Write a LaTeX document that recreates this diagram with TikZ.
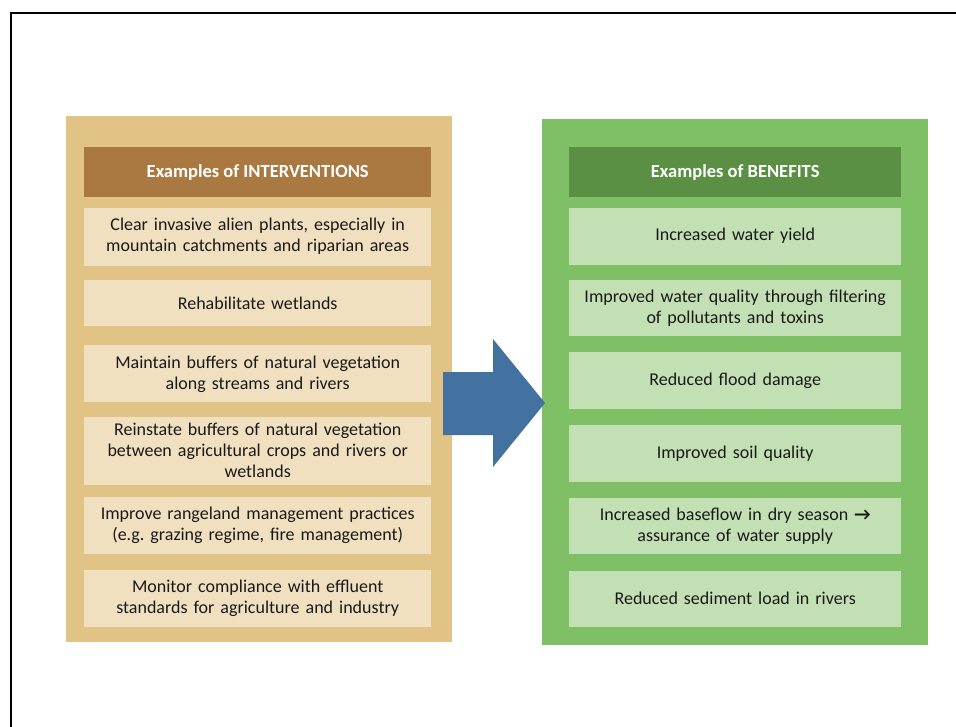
\documentclass[tikz,border=0pt]{standalone}
\usepackage{fontspec}
\setmainfont{Carlito}
\frenchspacing
\usepackage{xcolor}
\usetikzlibrary{positioning}

\definecolor{tanpanel}{RGB}{226,195,134}
\definecolor{tanhead}{RGB}{169,121,65}
\definecolor{tanitem}{RGB}{240,224,192}
\definecolor{greenpanel}{RGB}{127,192,102}
\definecolor{greenhead}{RGB}{90,143,68}
\definecolor{greenitem}{RGB}{194,224,180}
\definecolor{arrowblue}{RGB}{68,114,160}
\definecolor{itemtext}{RGB}{25,25,25}

\tikzset{
  panel/.style={rectangle, anchor=north west, inner sep=0pt},
  header/.style={rectangle, inner sep=0pt, text=white, align=center,
    font=\fontsize{18.5}{21}\selectfont\bfseries, minimum height=50pt},
  item/.style={rectangle, inner sep=0pt, text=itemtext, align=center,
    font=\fontsize{18}{21}\selectfont},
  leftitem/.style={item, fill=tanitem, text width=347pt},
  rightitem/.style={item, fill=greenitem, text width=332pt}
}

\begin{document}
\begin{tikzpicture}[x=1pt,y=-1pt]
            \useasboundingbox (0,0) rectangle (956,727);
            \draw[line width=2.5pt] (11,740) -- (11,13) -- (970,13);

            % panels
            \node (leftpanel) [panel, fill=tanpanel, minimum width=386pt, minimum height=526pt] at (66,116) {};
            \node (rightpanel) [panel, fill=greenpanel, minimum width=386pt, minimum height=526pt] at (542,119) {};

            % interventions
            \node (interventions) [header, fill=tanhead, minimum width=347pt, anchor=north west] at (84,147) {Examples of INTERVENTIONS};
            \node (clear) [leftitem, below=10pt of interventions, minimum height=58pt] {Clear invasive alien plants, especially in\\mountain catchments and riparian areas};
            \node (wetlands) [leftitem, below=14pt of clear, minimum height=46pt] {Rehabilitate wetlands};
            \node (maintain) [leftitem, below=19pt of wetlands, minimum height=57pt] {Maintain buffers of natural vegetation\\along streams and rivers};
            \node (reinstate) [leftitem, below=14pt of maintain, minimum height=68pt] {Reinstate buffers of natural vegetation\\between agricultural crops and rivers or\\wetlands};
            \node (rangeland) [leftitem, below=12pt of reinstate, minimum height=57pt] {Improve rangeland management practices\\(e.g. grazing regime, fire management)};
            \node (monitor) [leftitem, below=15pt of rangeland, minimum height=57pt] {Monitor compliance with effluent\\standards for agriculture and industry};

            % benefits
            \node (benefits) [header, fill=greenhead, minimum width=332pt, anchor=north west] at (569,147) {Examples of BENEFITS};
            \node (yield) [rightitem, below=10pt of benefits, minimum height=57pt] {Increased water yield};
            \node (quality) [rightitem, below=15pt of yield, minimum height=56pt] {Improved water quality through filtering\\of pollutants and toxins};
            \node (flood) [rightitem, below=16pt of quality, minimum height=57pt] {Reduced flood damage};
            \node (soil) [rightitem, below=15pt of flood, minimum height=57pt] {Improved soil quality};
            \node (baseflow) [rightitem, below=16pt of soil, minimum height=56pt] {Increased baseflow in dry season {\bfseries →}\\assurance of water supply};
            \node (sediment) [rightitem, below=16pt of baseflow, minimum height=56pt] {Reduced sediment load in rivers};

            % block arrow between the panels
            \fill[arrowblue] (443,372) -- (493,372) -- (493,339) -- (545,403)
                -- (493,467) -- (493,435) -- (443,435) -- cycle;
        \end{tikzpicture}
\end{document}
